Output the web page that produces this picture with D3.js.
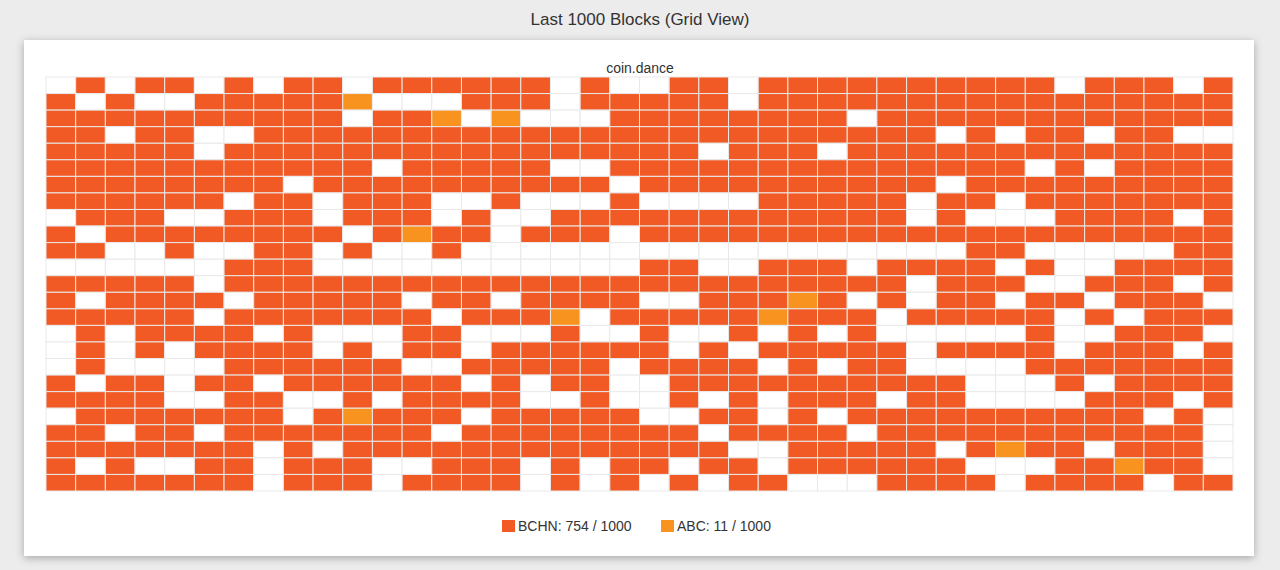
<!DOCTYPE html>
<html>
<head>
<meta charset="utf-8">
<script src="https://cdn.jsdelivr.net/npm/d3@7"></script>
<style>
body { margin:0; background:#ececec; font-family:"Helvetica Neue", "Liberation Sans", Arial, sans-serif; }
</style>
</head>
<body>
<div id="chart"></div>
<script>
// one string per grid row, B = BCHN, A = ABC, . = other
var rows = [
	".B.BB.B.BB.BBBBBB.B..BB.BBBBBBBBBB.BBB.B",
	"B.B..BBBBBA...BBB.BBBBB.BBBBBBBBBBBBBBBB",
	"BBBBBBBBBB.BBA.A...BBBBBBBB.BBBBBBBBBBBB",
	"BB.BB..BBBBBBBBBBBBBBBBBBBBBBB.B.BB.BB..",
	"BBBBB.BBBBBBBBBBBBBBBB.BBB.BBBBBBBBBBBBB",
	"BBBBBBBBBBB.BBBBB..BBBBBBBBBBBBBB.B.BBBB",
	"BBBBBBBB.BBBBBBBBBB.BBBBBBBBBB.BBBBBBBBB",
	"BBBBBB.BB.BBB..B...B....BBBBB.BB.BBBBBBB",
	".BBB..BBB.BBB.B..BBBBBBBBBBBB.B...BBBB.B",
	"B.BBBBBBBB.BABB.BBB.BBBBBBBBBBBBBBBBBBBB",
	"BB..B..BB.B..B.................BB.....BB.",
	"......BBB...........BB..BBB.BBBB.B..BBBB",
	"BBBBB.BBBBBBBBBBBBBBBBBBBBBBB.BBB..BBB.BB",
	"B.BBBB.BBBBB.BB.BBBB..BBBAB.B.BB.BB.BBB..",
	"BBBBB.BBBBBBB.BBBA.BBBBBABBB.BBBBB.B.BBB",
	".B.BBBB.B...BB...B..B..B.B.B.....B..BBB.",
	".B.B.BBBB.B.BB.BBBBBB.B.BBBBB.BBBB.BBB.B",
	".B....BBBBBB..BBBBB.BBBB.B.BB....BBBBBBB",
	"B.BB.BB.BBBBBB.B.BB..BBBBBBBBBB...B.BBBB",
	"BBBB..BB..B.BBBB..B..B.B.BBB.BB....BBB.B",
	".BBBBBBB.BABBB.BBBBB..BB.B.BBBBBBBBBB.B.",
	"BB.BB.BBBBBBB.BBBBBBBB.BBBB.BBBBBBBBBBB.",
	"BBBBBBB.B.BBBBBBBBBBBBB..BBBBB.BABB.BBB.B",
	"B.B..BB.BBB..BBB.B.BB.BB.BBBBBB...BBABB.",
	"BBBBBBB.BBB.BBBB.B.B.B.BB...BBBB.BBBB.BB"
];
var nCols = 40;
var series = ["BCHN", "ABC"];
var counts = [754, 11];
var total = 1000;
var colors = { B: "#f15a24", A: "#f7931e", ".": "#ffffff" };

var W = 1280, H = 570;
var svg = d3.select("#chart").append("svg").attr("width", W).attr("height", H);

svg.append("text").attr("x", 640).attr("y", 25).attr("text-anchor", "middle")
	.attr("font-size", "17px").attr("fill", "#333").text("Last 1000 Blocks (Grid View)");

var defs = svg.append("defs");
var f = defs.append("filter").attr("id", "sh").attr("x", "-5%").attr("y", "-5%").attr("width", "110%").attr("height", "115%");
f.append("feDropShadow").attr("dx", 0).attr("dy", 2).attr("stdDeviation", 4).attr("flood-color", "#000").attr("flood-opacity", 0.3);

svg.append("rect").attr("x", 24).attr("y", 40).attr("width", 1230).attr("height", 516)
	.attr("fill", "#fff").attr("filter", "url(#sh)");

svg.append("text").attr("x", 640).attr("y", 73).attr("text-anchor", "middle")
	.attr("font-size", "14px").attr("fill", "#333").text("coin.dance");

var x = d3.scaleBand().domain(d3.range(nCols)).range([46, 1233]);
var y = d3.scaleBand().domain(d3.range(rows.length)).range([77, 491]);

var cells = [];
rows.forEach(function(r, i) {
	for (var j = 0; j < nCols; j++)
		cells.push({ r: i, c: j, v: r[j] || "." });
});

svg.append("g").selectAll("rect")
	.data(cells)
	.enter()
	.append("rect")
	.attr("x", function(d) { return x(d.c); })
	.attr("y", function(d) { return y(d.r); })
	.attr("width", x.bandwidth())
	.attr("height", y.bandwidth())
	.attr("fill", function(d) { return colors[d.v]; })
	.attr("stroke", "#e9e9e9")
	.attr("stroke-width", 1);

// legend
var lx = [502, 661];
series.forEach(function(s, i) {
	var g = svg.append("g").attr("transform", "translate(" + lx[i] + ",520)");
	g.append("rect").attr("width", 13).attr("height", 12).attr("fill", i ? colors.A : colors.B);
	g.append("text").attr("x", 16).attr("y", 11).attr("font-size", "14px").attr("fill", "#333")
		.text(s + ": " + counts[i] + " / " + total);
});
</script>
</body>
</html>
